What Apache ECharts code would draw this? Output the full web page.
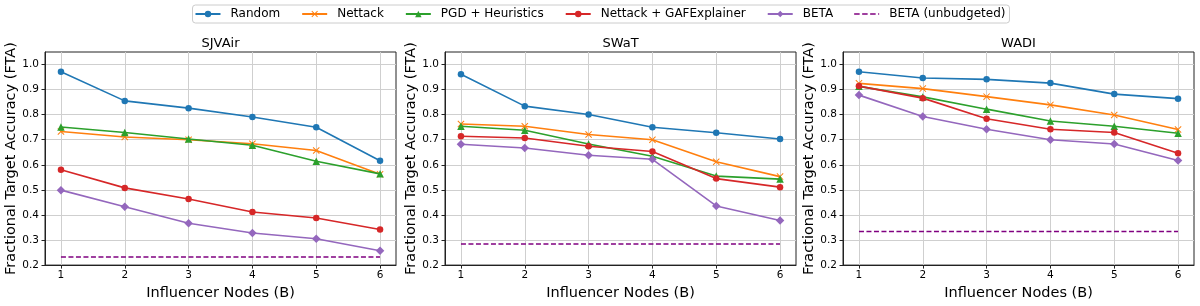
<!DOCTYPE html>
<html>
<head>
<meta charset="utf-8">
<script src="https://cdn.jsdelivr.net/npm/echarts@6/dist/echarts.min.js"></script>
<style>
  html, body { margin: 0; padding: 0; background: #fff; }
  #chart { width: 1200px; height: 306px; }
</style>
</head>
<body>
<div id="chart"></div>
<script>
// ---- data ----
const budgets = [1, 2, 3, 4, 5, 6];
const xTicks = [1, 2, 3, 4, 5, 6];
const yTicks = [0.2, 0.3, 0.4, 0.5, 0.6, 0.7, 0.8, 0.9, 1.0];
const panelTitles = ['SJVAir', 'SWaT', 'WADI'];
const methodNames = ['Random', 'Nettack', 'PGD + Heuristics', 'Nettack + GAFExplainer', 'BETA', 'BETA (unbudgeted)'];

const sjvRandom     = [0.971, 0.855, 0.826, 0.791, 0.750, 0.616];
const sjvNettack    = [0.733, 0.711, 0.700, 0.684, 0.657, 0.562];
const sjvPGD        = [0.751, 0.729, 0.703, 0.678, 0.614, 0.564];
const sjvGAF        = [0.580, 0.508, 0.464, 0.412, 0.388, 0.342];
const sjvBETA       = [0.499, 0.433, 0.367, 0.328, 0.305, 0.257];
const sjvUnbudgeted = [0.232, 0.232, 0.232, 0.232, 0.232, 0.232];

const swatRandom     = [0.961, 0.834, 0.801, 0.750, 0.728, 0.703];
const swatNettack    = [0.763, 0.754, 0.721, 0.700, 0.612, 0.553];
const swatPGD        = [0.754, 0.738, 0.683, 0.634, 0.555, 0.543];
const swatGAF        = [0.714, 0.707, 0.674, 0.653, 0.545, 0.511];
const swatBETA       = [0.682, 0.667, 0.638, 0.622, 0.436, 0.378];
const swatUnbudgeted = [0.284, 0.284, 0.284, 0.284, 0.284, 0.284];

const wadiRandom     = [0.971, 0.946, 0.941, 0.926, 0.882, 0.864];
const wadiNettack    = [0.925, 0.904, 0.872, 0.839, 0.799, 0.741];
const wadiPGD        = [0.913, 0.871, 0.822, 0.775, 0.754, 0.726];
const wadiGAF        = [0.914, 0.866, 0.784, 0.742, 0.729, 0.646];
const wadiBETA       = [0.878, 0.793, 0.742, 0.700, 0.683, 0.617];
const wadiUnbudgeted = [0.334, 0.334, 0.334, 0.334, 0.334, 0.334];

const panelData = [
  [sjvRandom, sjvNettack, sjvPGD, sjvGAF, sjvBETA, sjvUnbudgeted],
  [swatRandom, swatNettack, swatPGD, swatGAF, swatBETA, swatUnbudgeted],
  [wadiRandom, wadiNettack, wadiPGD, wadiGAF, wadiBETA, wadiUnbudgeted]
];

// ---- styles ----
const FONT = 'DejaVu Sans';
const xShape = 'path://M1,0 L5,4 L9,0 L10,1 L6,5 L10,9 L9,10 L5,6 L1,10 L0,9 L4,5 L0,1 Z';
const dashIcon = 'path://M0,4.3h5.5v1.4h-5.5z M8,4.3h5.5v1.4h-5.5z M16,4.3h5.5v1.4h-5.5z M24,4.3h1v1.4h-1z';
const methodStyles = [
  { color: '#1f77b4', symbol: 'circle', size: 6.5 },
  { color: '#ff7f0e', symbol: xShape, size: 7 },
  { color: '#2ca02c', symbol: 'triangle', size: 7.5 },
  { color: '#d62728', symbol: 'circle', size: 6.5 },
  { color: '#9467bd', symbol: 'diamond', size: 8.5 },
  { color: '#800080', symbol: 'none', size: 0, dashed: true }
];
const gridLefts = [45, 445, 843];

const grids = [], xAxes = [], yAxes = [], titles = [], series = [];
gridLefts.forEach((left, p) => {
  grids.push({ left: left, top: 52, width: 351, height: 216, show: true,
    borderColor: '#222', borderWidth: 1, backgroundColor: 'transparent' });
  titles.push({ text: panelTitles[p], left: left + 175.5, top: 37, padding: 0, textAlign: 'center',
    textStyle: { fontFamily: FONT, fontSize: 13, fontWeight: 'normal', color: '#000' } });
  xAxes.push({
    type: 'value', gridIndex: p, min: 0.75, max: 6.25, splitNumber: 5,
    name: 'Influencer Nodes (B)', nameLocation: 'middle', nameGap: 17,
    nameTextStyle: { fontFamily: FONT, fontSize: 14.5, color: '#000' },
    axisLine: { show: true, onZero: false, lineStyle: { color: '#222', width: 1 } },
    axisTick: { show: true, length: 3.5, customValues: xTicks, lineStyle: { color: '#222' } },
    axisLabel: { customValues: xTicks, margin: 5, fontFamily: FONT, fontSize: 10.5, color: '#000',
      formatter: v => String(v) },
    splitLine: { show: true, lineStyle: { color: '#cfcfcf', width: 1 } }
  });
  yAxes.push({
    type: 'value', gridIndex: p, min: 0.2, max: 1.05, splitNumber: 8,
    name: 'Fractional Target Accuracy (FTA)', nameLocation: 'middle', nameGap: 26,
    nameTextStyle: { fontFamily: FONT, fontSize: 14.5, color: '#000' },
    axisLine: { show: true, lineStyle: { color: '#222', width: 1 } },
    axisTick: { show: true, length: 3.5, customValues: yTicks, lineStyle: { color: '#222' } },
    axisLabel: { customValues: yTicks, margin: 6, fontFamily: FONT, fontSize: 10.5, color: '#000',
      formatter: v => v.toFixed(1) },
    splitLine: { show: true, lineStyle: { color: '#cfcfcf', width: 1 } }
  });
  methodNames.forEach((name, m) => {
    const st = methodStyles[m];
    const vals = panelData[p][m];
    series.push({
      name: name, type: 'line', xAxisIndex: p, yAxisIndex: p,
      data: budgets.map((b, i) => [b, vals[i]]),
      symbol: st.symbol, symbolSize: st.size, showSymbol: !st.dashed,
      lineStyle: { color: st.color, width: st.dashed ? 1.5 : 1.6, type: st.dashed ? [5, 2.5] : 'solid' },
      itemStyle: { color: st.color },
      emphasis: { disabled: true },
      z: 2 + m
    });
  });
});

const legendData = methodNames.map((n, m) => methodStyles[m].dashed ? { name: n, icon: dashIcon } : { name: n });

const chart = echarts.init(document.getElementById('chart'), null, { renderer: 'canvas' });
chart.setOption({
  animation: false,
  backgroundColor: '#fff',
  title: titles,
  legend: {
    data: legendData, top: 5, left: 'center',
    itemWidth: 25, itemHeight: 8, itemGap: 21,
    padding: [3, 4, 3, 2], borderColor: '#cccccc', borderWidth: 1, borderRadius: 3,
    textStyle: { fontFamily: FONT, fontSize: 12, color: '#000', padding: [0, 0, 0, 5] }
  },
  grid: grids,
  xAxis: xAxes,
  yAxis: yAxes,
  series: series
});
</script>
</body>
</html>
